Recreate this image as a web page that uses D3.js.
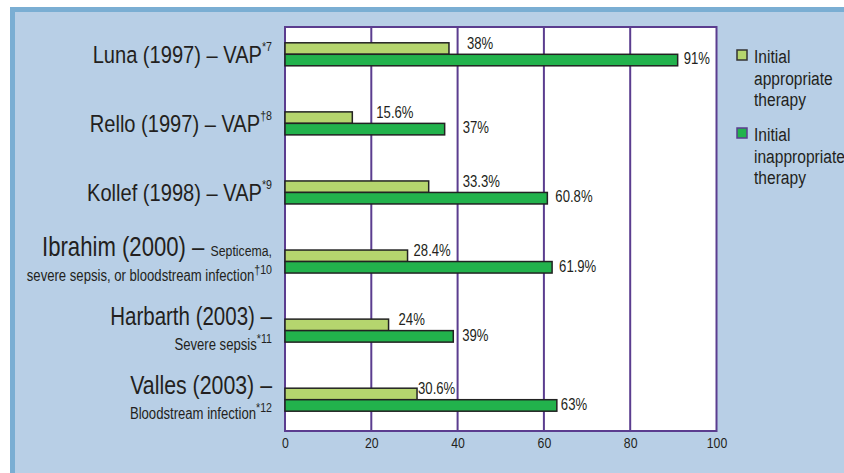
<!DOCTYPE html>
<html>
<head>
<meta charset="utf-8">
<script src="https://cdn.jsdelivr.net/npm/d3@7"></script>
<style>
  body { margin: 0; background: #fff; }
  text { font-family: "Liberation Sans", Arial, sans-serif; fill: #231f20; }
</style>
</head>
<body>
<div id="chart"></div>
<script>
(function () {
    var width = 844,
        height = 473;

    // data
    var studies = ["Luna", "Rello", "Kollef", "Ibrahim", "Harbarth", "Valles"];
    var labelMain = ["Luna (1997) – VAP", "Rello (1997) – VAP", "Kollef (1998) – VAP",
                     "Ibrahim (2000) – ", "Harbarth (2003) –", "Valles (2003) –"];
    var labelInline = ["", "", "", "Septicema,", "", ""];
    var labelSub = ["", "", "", "severe sepsis, or bloodstream infection", "Severe sepsis", "Bloodstream infection"];
    var refs = ["*7", "†8", "*9", "†10", "*11", "*12"];
    var appropriate = [38, 15.6, 33.3, 28.4, 24, 30.6];
    var inappropriate = [91, 37, 60.8, 61.9, 39, 63];
    var xTicks = [0, 20, 40, 60, 80, 100];
    var legendItems = [["Initial", "appropriate", "therapy"], ["Initial", "inappropriate", "therapy"]];

    // hand placed nudges for the value labels (px) and label type sizes
    var lightLabelDx = [18, 24, 34, 6, 10, 1];
    var darkLabelDx = [6, 18, 8, 7, 9, 4];
    var mainSize = [24.5, 24.5, 24.5, 27, 25, 26];

    var lightGreen = "#b5d56e",
        darkGreen = "#22b24c",
        purple = "#5b3d8f";

    // the original type is a condensed grotesque; squeeze Liberation Sans
    var narrow = 0.82;

    var svg = d3.select("#chart")
        .append("svg")
        .attr("width", width)
        .attr("height", height);

    function addText(parent, tx, ty, anchor) {
        return parent.append("text")
            .attr("transform", "translate(" + tx + "," + ty + ") scale(" + narrow + ",1)")
            .attr("text-anchor", anchor || "start");
    }

    // panel background
    svg.append("rect").attr("x", 10).attr("y", 7).attr("width", width - 10).attr("height", height - 7)
        .attr("fill", "#b8cfe6");
    svg.append("rect").attr("x", 10).attr("y", 7).attr("width", width - 10).attr("height", 5)
        .attr("fill", "#7aaed3");
    svg.append("rect").attr("x", 10).attr("y", 7).attr("width", 5).attr("height", height - 7)
        .attr("fill", "#7aaed3");

    var plot = {left: 285, right: 716.5, top: 27, bottom: 431};

    var x = d3.scaleLinear().domain([0, 100]).range([plot.left, plot.right]);
    var y = d3.scalePoint().domain(studies).range([54.3, 399.7]);
    var barH = 11.5;

    svg.append("rect")
        .attr("x", plot.left).attr("y", plot.top)
        .attr("width", plot.right - plot.left).attr("height", plot.bottom - plot.top)
        .attr("fill", "#fff");

    // grid
    svg.selectAll(".grid")
        .data(xTicks.slice(1, -1))
        .enter().append("line")
        .attr("class", "grid")
        .attr("x1", function (d) { return x(d); })
        .attr("x2", function (d) { return x(d); })
        .attr("y1", plot.top)
        .attr("y2", plot.bottom)
        .attr("stroke", purple)
        .attr("stroke-width", 2);

    svg.append("rect")
        .attr("x", plot.left).attr("y", plot.top)
        .attr("width", plot.right - plot.left).attr("height", plot.bottom - plot.top)
        .attr("fill", "none")
        .attr("stroke", purple)
        .attr("stroke-width", 2);

    // x axis labels
    var xAxis = d3.axisBottom(x).tickValues(xTicks).tickSize(0).tickPadding(6);
    var gx = svg.append("g")
        .attr("transform", "translate(0," + plot.bottom + ")")
        .call(xAxis);
    gx.select(".domain").remove();
    gx.selectAll("text")
        .attr("transform", "scale(" + narrow + ",1)")
        .attr("font-size", 15)
        .attr("fill", "#333")
        .attr("font-family", null);

    // bars
    var rows = studies.map(function (s, i) {
        return {name: s, a: appropriate[i], b: inappropriate[i], i: i};
    });

    svg.selectAll(".bar-a")
        .data(rows)
        .enter().append("rect")
        .attr("class", "bar-a")
        .attr("x", x(0))
        .attr("y", function (d) { return y(d.name) - barH; })
        .attr("width", function (d) { return x(d.a) - x(0); })
        .attr("height", barH)
        .attr("fill", lightGreen)
        .attr("stroke", "#222")
        .attr("stroke-width", 1.5);

    svg.selectAll(".bar-b")
        .data(rows)
        .enter().append("rect")
        .attr("class", "bar-b")
        .attr("x", x(0))
        .attr("y", function (d) { return y(d.name); })
        .attr("width", function (d) { return x(d.b) - x(0); })
        .attr("height", barH)
        .attr("fill", darkGreen)
        .attr("stroke", "#222")
        .attr("stroke-width", 1.5);

    // value labels
    rows.forEach(function (d) {
        addText(svg, x(d.a) + lightLabelDx[d.i], y(d.name) - barH + 6)
            .attr("font-size", 16)
            .text(d.a + "%");
        addText(svg, x(d.b) + darkLabelDx[d.i], y(d.name) + barH - 1.5)
            .attr("font-size", 16)
            .text(d.b + "%");
    });

    // category labels
    var labelX = 272;
    rows.forEach(function (d) {
        var cy = y(d.name);
        if (labelSub[d.i] === "") {
            var t = addText(svg, labelX, cy + 8.5, "end");
            t.append("tspan").attr("font-size", mainSize[d.i]).text(labelMain[d.i]);
            t.append("tspan").attr("font-size", 13).attr("dy", -12).text(refs[d.i]);
        } else {
            var t1 = addText(svg, labelX, cy - 5.5, "end");
            t1.append("tspan").attr("font-size", mainSize[d.i]).text(labelMain[d.i]);
            if (labelInline[d.i] !== "") {
                t1.append("tspan").attr("font-size", 15).text(labelInline[d.i]);
            }
            var t2 = addText(svg, labelX, cy + 19, "end");
            t2.append("tspan").attr("font-size", 16).text(labelSub[d.i]);
            t2.append("tspan").attr("font-size", 13).attr("dy", -7).text(refs[d.i]);
        }
    });

    // legend
    var legend = svg.selectAll(".legend")
        .data(legendItems)
        .enter().append("g")
        .attr("class", "legend")
        .attr("transform", function (d, i) { return "translate(737," + (50 + i * 78) + ")"; });

    legend.append("rect")
        .attr("width", 10)
        .attr("height", 10)
        .attr("fill", function (d, i) { return i === 0 ? lightGreen : darkGreen; })
        .attr("stroke", function (d, i) { return i === 0 ? "#333" : purple; })
        .attr("stroke-width", 1.5);

    legend.each(function (lines) {
        var g = d3.select(this);
        lines.forEach(function (line, j) {
            addText(g, 17, 13 + j * 21.5).attr("font-size", 19).text(line);
        });
    });
})();
</script>
</body>
</html>
